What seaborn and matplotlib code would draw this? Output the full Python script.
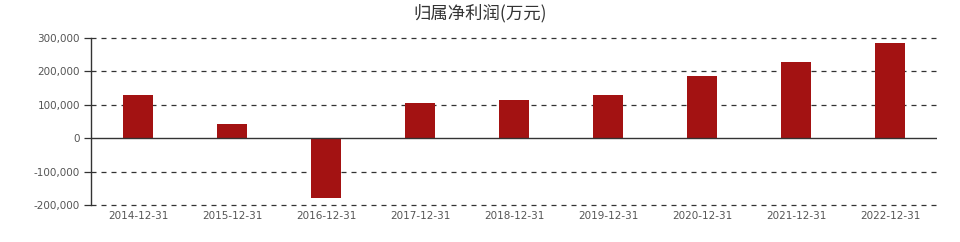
import matplotlib
matplotlib.use("Agg")
import matplotlib.pyplot as plt
import seaborn as sns
import pandas as pd
from matplotlib.ticker import FuncFormatter

dates = ["2014-12-31", "2015-12-31", "2016-12-31", "2017-12-31", "2018-12-31",
         "2019-12-31", "2020-12-31", "2021-12-31", "2022-12-31"]
profit = [128000, 44000, -178500, 105000, 114000, 128000, 185500, 229500, 284500]
yticks = [-200000, -100000, 0, 100000, 200000, 300000]
title = "归属净利润(万元)"

sns.set_theme(style="white")
plt.rcParams['font.family'] = ['Noto Sans CJK SC', 'DejaVu Sans']

df = pd.DataFrame({"date": dates, "profit": profit})

fig = plt.figure(figsize=(9.6, 2.42), dpi=100)
ax = fig.add_axes([91/960, 1 - 205/242, (937-91)/960, (205-38)/242])

sns.barplot(data=df, x="date", y="profit", color="#a31212", saturation=1,
            width=0.32, ax=ax, edgecolor="none")

ax.set_ylim(-200000, 300000)
ax.set_xlim(-0.5, len(dates) - 0.5)
ax.set_yticks(yticks)
ax.yaxis.set_major_formatter(FuncFormatter(lambda v, p: f"{int(v):,}"))
for t in yticks:
    if t != 0:
        ax.axhline(t, color="#333333", lw=0.9, ls=(0, (4, 4)), zorder=0,
                   clip_on=False)
ax.axhline(0, color="#333333", lw=1.0, zorder=3)

for s in ["top", "right", "bottom"]:
    ax.spines[s].set_visible(False)
ax.spines["left"].set_color("#333333")
ax.spines["left"].set_linewidth(1.0)

ax.tick_params(axis="y", which="both", left=True, length=5, width=0.9,
               color="#333333", labelsize=7.5, labelcolor="#555555", pad=3)
ax.tick_params(axis="x", bottom=False, length=0, labelsize=7.5,
               labelcolor="#555555", pad=4)
for lbl in ax.get_xticklabels() + ax.get_yticklabels():
    lbl.set_family(['DejaVu Sans'])
ax.set_xlabel("")
ax.set_ylabel("")

fig.text(0.5, 1 - 13/242, title, ha="center", va="center", fontsize=12.5,
         color="#333333")

fig.savefig("out.png", dpi=100)
